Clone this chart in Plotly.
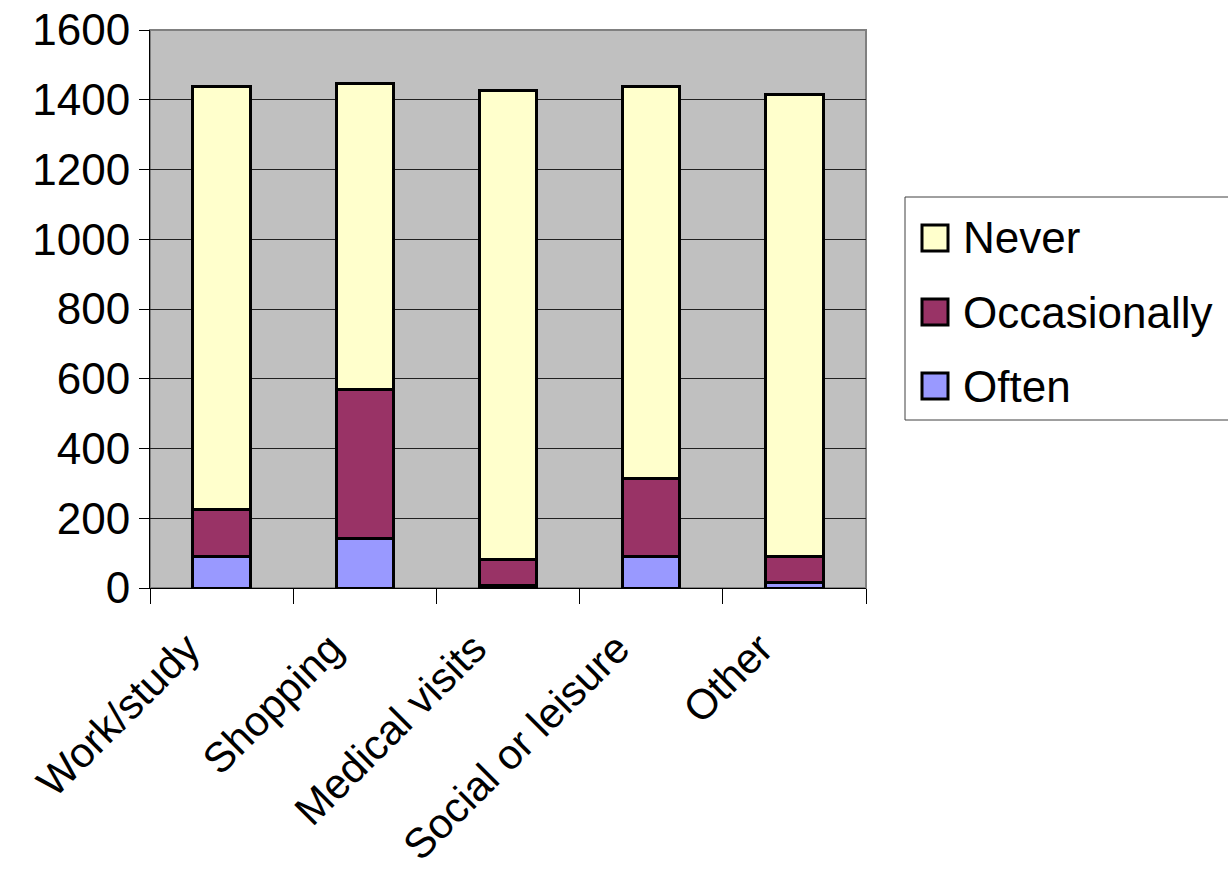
import plotly.graph_objects as go

categories = ["Work/study", "Shopping", "Medical visits", "Social or leisure", "Other"]
often = [90, 141, 8, 90, 17]
occasionally = [136, 429, 74, 225, 73]
never = [1211, 877, 1344, 1122, 1326]
y_ticks = [0, 200, 400, 600, 800, 1000, 1200, 1400, 1600]

FONT = "Liberation Sans, Arial, sans-serif"
FS = 44

W, H = 1228, 873
L, R, T, B = 150, 362, 30, 285
PW, PH = W - L - R, H - T - B


def px(xp):
    return (xp - L) / PW


def py(yp):
    return (H - B - yp) / PH


fig = go.Figure()
series = [("Often", often, "#9999FF"), ("Occasionally", occasionally, "#993366"), ("Never", never, "#FFFFCC")]
for name, vals, col in series:
    fig.add_trace(go.Bar(
        x=categories, y=vals, name=name, showlegend=False,
        marker=dict(color=col, line=dict(color="black", width=3)),
    ))

shapes = [dict(type="rect", xref="paper", yref="paper", x0=0, y0=0, x1=1, y1=1,
               line=dict(color="#808080", width=2), layer="below")]
annotations = []

# legend (manual, to match large square swatches)
shapes.append(dict(type="rect", xref="paper", yref="paper",
                   x0=px(905), x1=px(1260), y0=py(420), y1=py(197),
                   line=dict(color="#404040", width=1), fillcolor="white"))
legend_items = [("Never", "#FFFFCC", 238), ("Occasionally", "#993366", 312), ("Often", "#9999FF", 386)]
for name, col, cy in legend_items:
    shapes.append(dict(type="rect", xref="paper", yref="paper",
                       x0=px(922), x1=px(948), y0=py(cy + 13), y1=py(cy - 13),
                       line=dict(color="black", width=3), fillcolor=col))
    annotations.append(dict(xref="paper", yref="paper", x=px(961), y=py(cy),
                            xanchor="left", yanchor="middle", showarrow=False,
                            text=name, font=dict(family=FONT, size=FS, color="black")))

fig.update_layout(
    barmode="stack",
    bargap=0.6,
    width=W, height=H,
    margin=dict(l=L, r=R, t=T, b=B, autoexpand=False),
    paper_bgcolor="white",
    plot_bgcolor="#C0C0C0",
    font=dict(family=FONT, size=FS, color="black"),
    showlegend=False,
    xaxis=dict(
        tickangle=-45, ticks="outside", ticklen=15, tickcolor="black",
        tickson="boundaries", showline=True, linecolor="black", linewidth=1,
        showgrid=False, tickfont=dict(size=42), automargin=False,
        ticklabelshift=-34, ticklabelstandoff=18,
    ),
    yaxis=dict(
        range=[0, 1600], tickvals=y_ticks, ticks="outside", ticklen=10,
        tickcolor="black", showline=True, linecolor="black", linewidth=1,
        showgrid=True, gridcolor="#202020", gridwidth=1, zeroline=False,
        tickfont=dict(size=FS), automargin=False,
    ),
    shapes=shapes,
    annotations=annotations,
)

fig.write_html("out.html", config={"displayModeBar": False},
               post_script="document.body.style.margin='0';document.body.style.overflow='hidden';")
